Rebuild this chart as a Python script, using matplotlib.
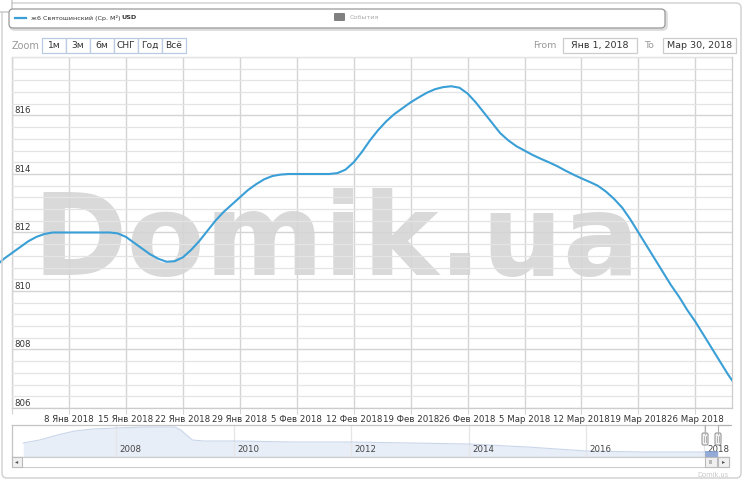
import matplotlib
matplotlib.use("Agg")
import matplotlib.pyplot as plt
import matplotlib.ticker as ticker
from matplotlib.patches import FancyBboxPatch, Rectangle
import pandas as pd

# ── data (one reading per day) ───────────────────────────────────────────────
START = "2017-12-30"
PRICE = [810.85, 811.1, 811.3, 811.5, 811.7, 811.85, 811.95, 812.0,    # 30.12 - 6.1
         812.0, 812.0, 812.0, 812.0, 812.0, 812.0, 812.0,                # 7.1 - 13.1
         811.97, 811.85, 811.65, 811.45, 811.25, 811.1, 811.0,           # 14.1 - 20.1
         811.02, 811.15, 811.4, 811.7, 812.05, 812.4, 812.7,             # 21.1 - 27.1
         812.95, 813.2, 813.45, 813.65, 813.82, 813.93, 813.98,          # 28.1 - 3.2
         814.0, 814.0, 814.0, 814.0, 814.0, 814.0, 814.03,               # 4.2 - 10.2
         814.15, 814.4, 814.75, 815.15, 815.5, 815.8, 816.05,            # 11.2 - 17.2
         816.25, 816.45, 816.62, 816.78, 816.9, 816.97, 817.0,           # 18.2 - 24.2
         816.95, 816.75, 816.45, 816.1, 815.75, 815.4, 815.15,           # 25.2 - 3.3
         814.95, 814.8, 814.65, 814.52, 814.4, 814.27, 814.12,           # 4.3 - 10.3
         813.98, 813.85, 813.73, 813.6, 813.4, 813.15, 812.85,           # 11.3 - 17.3
         812.45, 812.0, 811.55, 811.1, 810.65, 810.2, 809.8,             # 18.3 - 24.3
         809.35, 808.95, 808.5, 808.05, 807.6, 807.15, 806.75]           # 25.3 - 31.3

WEEK_TICKS = ["2018-01-01", "2018-01-08", "2018-01-15", "2018-01-22", "2018-01-29",
              "2018-02-05", "2018-02-12", "2018-02-19", "2018-02-26", "2018-03-05",
              "2018-03-12", "2018-03-19", "2018-03-26"]
WEEK_LABELS = ["", "8 Янв 2018", "15 Янв 2018", "22 Янв 2018", "29 Янв 2018",
               "5 Фев 2018", "12 Фев 2018", "19 Фев 2018", "26 Фев 2018",
               "5 Мар 2018", "12 Мар 2018", "19 Мар 2018", "26 Мар 2018"]
Y_TICKS = [806, 808, 810, 812, 814, 816]

# navigator (long history, whole period)
NAV_YEAR = [2006.42, 2006.7, 2007.0, 2007.3, 2007.6, 2008.0, 2008.5, 2009.0,
            2009.1, 2009.3, 2009.5, 2010.0, 2011.0, 2012.0, 2013.0, 2014.0,
            2015.0, 2016.0, 2017.0, 2018.25]
NAV_VAL = [1196, 1328, 1548, 1724, 1812, 1856, 1900, 1900,
           1768, 1328, 1284, 1284, 1240, 1240, 1196, 1152,
           1020, 844, 800, 800]
NAV_TICKS = [2008, 2010, 2012, 2014, 2016, 2018]

ZOOM_BUTTONS = ["1м", "3м", "6м", "СНГ", "Год", "Всё"]

W, H = 744, 480
LINE = "#3a9fd6"
GRID = "#e4e4e4"
GRID_MAJ = "#d4d4d4"
TXT = "#333333"


def px_box(x0, y0, x1, y1):
    """Pixel box (top-left origin) -> figure fraction rect."""
    return [x0 / W, 1 - y1 / H, (x1 - x0) / W, (y1 - y0) / H]


fig = plt.figure(figsize=(W / 100, H / 100), dpi=100, facecolor="white")

# overlay in pixel coordinates for the page furniture
ov = fig.add_axes([0, 0, 1, 1], zorder=5)
ov.set_xlim(0, W)
ov.set_ylim(H, 0)
ov.axis("off")
ov.patch.set_alpha(0)

# ── main chart ────────────────────────────────────────────────────────────────
ax = fig.add_axes(px_box(12, 57, 732, 408), zorder=1)
dates = pd.date_range(START, periods=len(PRICE), freq="D")
line, = ax.plot(dates, PRICE, color=LINE, lw=1.5, zorder=3,
                solid_capstyle="round", solid_joinstyle="round")
# the series runs a little past the left edge of the plot, as in the original
line.set_clip_path(Rectangle((-0.05, -0.1), 1.05, 1.2, transform=ax.transAxes))
ax.set_xlim(pd.Timestamp("2018-01-01"), pd.Timestamp("2018-03-30 12:00"))
ax.set_ylim(806, 818)

ax.set_xticks(pd.to_datetime(WEEK_TICKS))
ax.set_xticklabels(WEEK_LABELS)
ax.set_yticks(Y_TICKS)
ax.yaxis.set_minor_locator(ticker.MultipleLocator(0.4))
ax.set_axisbelow(False)
ax.grid(axis="x", which="major", color=GRID_MAJ, lw=1.0)
ax.grid(axis="y", which="major", color=GRID_MAJ, lw=1.0)
ax.grid(axis="y", which="minor", color=GRID, lw=0.9)
ax.tick_params(axis="x", length=4, color=GRID_MAJ, labelsize=6.2,
               labelcolor=TXT, pad=1)
ax.tick_params(axis="y", which="both", length=0, pad=-2, labelsize=6.2,
               labelcolor=TXT)
for lbl in ax.get_yticklabels():
    lbl.set_ha("left")
    lbl.set_va("bottom")
for side, sp in ax.spines.items():
    sp.set_color("#cccccc" if side != "left" else "#b8b8b8")
    sp.set_linewidth(0.9)

# watermark behind the grid
ax.text(336, 275, "Domik.ua", transform=ov.transData, ha="center",
        va="baseline", fontsize=82, fontweight="bold", color="#d9d9d9",
        zorder=0.2, clip_on=False)

# ── navigator ────────────────────────────────────────────────────────────────
nav = fig.add_axes(px_box(12, 425, 729, 457), zorder=1)
nav.fill_between(NAV_YEAR, NAV_VAL, 580, color="#e8eef7", lw=0)
nav.plot(NAV_YEAR, NAV_VAL, color="#c9d6ea", lw=0.8)
nav.set_xlim(2006.23, 2018.43)
nav.set_ylim(580, 1988)
nav.set_xticks(NAV_TICKS)
nav.set_yticks([])
nav.grid(axis="x", color="#e6e6e6", lw=0.9)
nav.tick_params(axis="x", length=0, labelbottom=False)
for side, sp in nav.spines.items():
    sp.set_color("#c4c4c4")
    sp.set_linewidth(0.9)
nav.spines["right"].set_visible(False)
for yr in NAV_TICKS:
    nav.annotate(str(yr), (yr, 0), xycoords=("data", "axes fraction"),
                 xytext=(2.5, 2.5), textcoords="offset points",
                 ha="left", va="bottom", fontsize=6.2, color="#444444")

# selected range, handles, scrollbar
ov.add_patch(Rectangle((705, 451), 13, 6, color="#7d9bd0", lw=0, alpha=0.8))
ov.plot([705, 705], [425, 434], color="#b0b0b0", lw=0.8)
ov.plot([718, 718, 731], [434, 425, 425], color="#b0b0b0", lw=0.8)
for hx in (705, 718):
    ov.add_patch(FancyBboxPatch((hx - 3, 433), 6, 12,
                                boxstyle="round,pad=0,rounding_size=1.5",
                                fc="#f2f2f2", ec="#999999", lw=0.8))
    ov.plot([hx - 0.8, hx - 0.8], [436, 442], color="#999999", lw=0.5)
    ov.plot([hx + 0.8, hx + 0.8], [436, 442], color="#999999", lw=0.5)

ov.add_patch(Rectangle((12, 457), 717, 10, fc="white", ec="#cccccc", lw=0.8))
ov.add_patch(Rectangle((12, 457), 10, 10, fc="#f0f0f0", ec="#bbbbbb", lw=0.8))
ov.text(17, 462, "◂", ha="center", va="center", fontsize=4.5, color="#555555")
ov.add_patch(Rectangle((705, 457), 12, 10, fc="#f0f0f0", ec="#bbbbbb", lw=0.8))
ov.text(711, 462, "III", ha="center", va="center", fontsize=3.5,
        color="#777777")
ov.add_patch(Rectangle((718, 457), 11, 10, fc="#f0f0f0", ec="#bbbbbb", lw=0.8))
ov.text(723.5, 462, "▸", ha="center", va="center", fontsize=4.5,
        color="#555555")
ov.text(728, 475, "Domik.us", ha="right", va="center", fontsize=4.8,
        color="#c8c8c8")

# ── page frame, legend, zoom / range selectors ───────────────────────────────
ov.add_patch(FancyBboxPatch((2, 3), 739, 475,
                            boxstyle="round,pad=0,rounding_size=5",
                            fc="none", ec="#cfcfcf", lw=1.0))
ov.add_patch(FancyBboxPatch((-4, -4), 16, 16,
                            boxstyle="round,pad=0,rounding_size=3",
                            fc="white", ec="#c0c0c0", lw=0.9))

ov.add_patch(FancyBboxPatch((10.5, 10.5), 656, 19,
                            boxstyle="round,pad=0,rounding_size=4",
                            fc="none", ec="#dddddd", lw=2.0))
ov.add_patch(FancyBboxPatch((9, 9), 656, 19,
                            boxstyle="round,pad=0,rounding_size=4",
                            fc="white", ec="#999999", lw=0.9))
ov.plot([15, 26], [17.5, 17.5], color=LINE, lw=1.6)
ov.text(31, 17.8, "ж6 Святошинский (Ср. М²) ", ha="left", va="center",
        fontsize=4.6, color="#333333")
ov.text(121, 17.8, "USD", ha="left", va="center", fontsize=4.6,
        fontweight="bold", color="#333333")
ov.add_patch(FancyBboxPatch((334, 13), 11, 8,
                            boxstyle="round,pad=0,rounding_size=1",
                            fc="#808080", ec="none"))
ov.text(350, 17.8, "События", ha="left", va="center", fontsize=4.6,
        color="#aaaaaa")

ov.text(12, 46, "Zoom", ha="left", va="center", fontsize=7, color="#999999")
btn_x = [42, 66, 90, 114, 138, 162, 186]
for i, lab in enumerate(ZOOM_BUTTONS):
    x0, x1 = btn_x[i], btn_x[i + 1]
    ov.add_patch(Rectangle((x0, 38), x1 - x0, 15, fc="white",
                           ec="#b9cbe2", lw=0.9))
    ov.text((x0 + x1) / 2, 45.8, lab, ha="center", va="center", fontsize=6.6,
            color="#333333")

ov.text(533, 45.5, "From", ha="left", va="center", fontsize=6.8,
        color="#999999")
ov.add_patch(Rectangle((563, 38), 74, 15, fc="white", ec="#cccccc", lw=0.9))
ov.text(600, 45.8, "Янв 1, 2018", ha="center", va="center", fontsize=6.8,
        color="#333333")
ov.text(644, 45.5, "To", ha="left", va="center", fontsize=6.8,
        color="#999999")
ov.add_patch(Rectangle((663, 38), 73, 15, fc="white", ec="#cccccc", lw=0.9))
ov.text(699.5, 45.8, "Мар 30, 2018", ha="center", va="center", fontsize=6.8,
        color="#333333")

fig.savefig("out.png", dpi=100, facecolor="white")
